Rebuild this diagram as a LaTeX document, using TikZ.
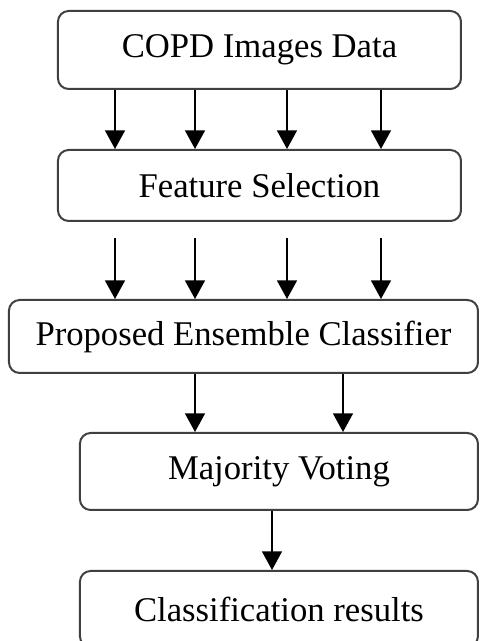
\documentclass[tikz,border=0pt]{standalone}
\usepackage{fontspec}
\setmainfont{Liberation Serif}
\usepackage{tikz}
\usetikzlibrary{arrows.meta,positioning,calc}

\begin{document}
\begin{tikzpicture}[
  box/.style={rectangle, rounded corners=8pt, draw=black!75, line width=1.5pt, fill=white, align=center, inner sep=2pt, font=\fontsize{26}{30}\selectfont},
  arrow/.style={-{Triangle[width=15pt,length=14pt]}, line width=1.2pt}
]
\path[use as bounding box, clip] (0,0) rectangle (359.25pt,480.75pt);

\node[box, minimum width=302.25pt, minimum height=58.5pt] (data) at (194.6pt,443.25pt) {COPD Images Data};
\node[box, minimum width=302.25pt, minimum height=53.25pt, below=44.25pt of data] (select) {Feature Selection};
\node[box, minimum width=351.75pt, minimum height=54.75pt, below=57.75pt of select, xshift=-12pt] (ensemble) {Proposed Ensemble Classifier};
\node[box, minimum width=298.5pt, minimum height=57.75pt, below=43.5pt of ensemble, xshift=26.6pt] (voting) {Majority Voting};
\node[box, minimum width=298.5pt, minimum height=57pt, below=44.25pt of voting] (result) {Classification results};

% four features into selection and classifier
\foreach \x in {86.25,146.25,215.25,285.75} {
  \draw[arrow] (\x pt,0 |- data.south) -- (\x pt,0 |- select.north);
  \draw[arrow] ($(\x pt,0 |- select.south)+(0,-12pt)$) -- (\x pt,0 |- ensemble.north);
}
\foreach \x in {146.25,257.25}
  \draw[arrow] (\x pt,0 |- ensemble.south) -- (\x pt,0 |- voting.north);
\draw[arrow] (204pt,0 |- voting.south) -- (204pt,0 |- result.north);

\end{tikzpicture}
\end{document}
